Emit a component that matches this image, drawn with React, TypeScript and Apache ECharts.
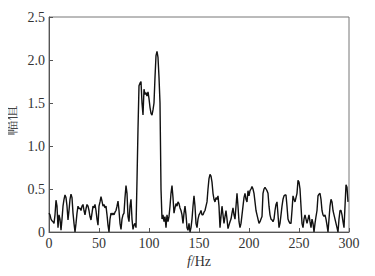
import React, { useEffect, useRef } from "react";
import * as echarts from "echarts";

// Sampling grid of the spectrum (Hz): first sample and spacing
const FREQ_START = 0;
const FREQ_STEP = 1;

// Amplitude, one value per Hz, rows of 10 (0–9, 10–19, ...)
const amplitude: number[] = [
  0.22, 0.2, 0.15, 0.13, 0.12, 0.1, 0.2, 0.37, 0.3, 0.05,
  0.2, 0.15, 0.02, 0.15, 0.3, 0.38, 0.43, 0.4, 0.3, 0.14,
  0.25, 0.38, 0.44, 0.4, 0.22, 0.1, 0.0, 0.1, 0.22, 0.3,
  0.27, 0.28, 0.25, 0.3, 0.32, 0.25, 0.2, 0.27, 0.32, 0.3,
  0.25, 0.18, 0.14, 0.22, 0.3, 0.28, 0.32, 0.25, 0.15, 0.08,
  0.3, 0.35, 0.41, 0.36, 0.3, 0.32, 0.28, 0.3, 0.2, 0.08,
  0.0, 0.15, 0.22, 0.2, 0.22, 0.2, 0.23, 0.25, 0.3, 0.36,
  0.25, 0.1, 0.03, 0.15, 0.2, 0.22, 0.4, 0.54, 0.45, 0.18,
  0.12, 0.3, 0.38, 0.15, 0.03, 0.08, 0.1, 0.05, 0.6, 1.2,
  1.7, 1.73, 1.75, 1.5, 1.36, 1.66, 1.6, 1.62, 1.58, 1.63,
  1.55, 1.45, 1.38, 1.36, 1.42, 1.5, 1.8, 2.05, 2.1, 2.03,
  1.8, 1.5, 0.5, 0.15, 0.2, 0.12, 0.18, 0.05, 0.2, 0.12,
  0.18, 0.3, 0.45, 0.54, 0.4, 0.22, 0.28, 0.33, 0.3, 0.35,
  0.33, 0.28, 0.25, 0.2, 0.1, 0.22, 0.3, 0.2, 0.05, 0.02,
  0.1, 0.0, 0.05, 0.15, 0.3, 0.42, 0.3, 0.1, 0.05, 0.15,
  0.2, 0.22, 0.25, 0.2, 0.2, 0.23, 0.25, 0.3, 0.35, 0.5,
  0.62, 0.67, 0.65, 0.58, 0.45, 0.38, 0.35, 0.4, 0.38, 0.42,
  0.3, 0.05, 0.18, 0.3, 0.2, 0.1, 0.18, 0.25, 0.15, 0.04,
  0.08, 0.12, 0.15, 0.22, 0.28, 0.2, 0.15, 0.3, 0.45, 0.3,
  0.12, 0.05, 0.1, 0.2, 0.3, 0.4, 0.45, 0.38, 0.35, 0.48,
  0.42, 0.48, 0.5, 0.53, 0.5, 0.45, 0.35, 0.25, 0.2, 0.15,
  0.1, 0.12, 0.15, 0.18, 0.45, 0.5, 0.52, 0.5, 0.48, 0.45,
  0.3, 0.2, 0.15, 0.14, 0.12, 0.15, 0.25, 0.32, 0.35, 0.2,
  0.05, 0.1, 0.2, 0.3, 0.38, 0.42, 0.43, 0.43, 0.3, 0.15,
  0.12, 0.1, 0.1, 0.25, 0.42, 0.38, 0.35, 0.4, 0.45, 0.6,
  0.58, 0.5, 0.3, 0.1, 0.05, 0.15, 0.2, 0.15, 0.1, 0.15,
  0.2, 0.12, 0.05, 0.15, 0.1, 0.0, 0.1, 0.18, 0.25, 0.42,
  0.44, 0.45, 0.38, 0.25, 0.2, 0.18, 0.2, 0.15, 0.08, 0.0,
  0.15, 0.3, 0.38, 0.35, 0.25, 0.2, 0.15, 0.1, 0.05, 0.0,
  0.15, 0.25, 0.25, 0.2, 0.12, 0.05, 0.3, 0.55, 0.52, 0.35,
];

const xTicks = [0, 50, 100, 150, 200, 250, 300];
const yTicks = [0, 0.5, 1.0, 1.5, 2.0, 2.5];

const X_NAME = "{i|f}/Hz";
const Y_NAME = "幅值";

const FONT = "'Liberation Serif', 'Times New Roman', serif";
const CJK = "'Noto Serif CJK SC', 'Noto Sans CJK SC', sans-serif";

export default function App() {
  const ref = useRef<HTMLDivElement>(null);

  useEffect(() => {
    if (!ref.current) return;
    const chart = echarts.init(ref.current, undefined, { renderer: "svg" });
    const points = amplitude.map((v, i) => [FREQ_START + i * FREQ_STEP, v]);
    const labelStyle = {
      color: "#333",
      fontFamily: FONT,
      fontSize: 14,
    };
    chart.setOption({
      animation: false,
      backgroundColor: "#fff",
      grid: {
        left: 49,
        right: 26,
        top: 17,
        bottom: 44,
        containLabel: false,
        outerBoundsMode: "none",
        show: true,
        borderColor: "#777",
        borderWidth: 1,
        backgroundColor: "transparent",
      },
      xAxis: {
        type: "value",
        min: xTicks[0],
        max: xTicks[xTicks.length - 1],
        interval: xTicks[1] - xTicks[0],
        name: X_NAME,
        nameLocation: "middle",
        nameGap: 22,
        nameTextStyle: {
          color: "#333",
          fontFamily: FONT,
          fontSize: 14,
          rich: {
            i: { fontStyle: "italic", fontFamily: FONT, fontSize: 14, color: "#333" },
          },
        },
        axisLine: { show: true, lineStyle: { color: "#555", width: 1 } },
        axisTick: { show: true, inside: true, length: 4, lineStyle: { color: "#555" } },
        axisLabel: { ...labelStyle, margin: 4 },
        splitLine: { show: false },
      },
      yAxis: {
        type: "value",
        min: yTicks[0],
        max: yTicks[yTicks.length - 1],
        interval: yTicks[1] - yTicks[0],
        name: Y_NAME,
        nameLocation: "middle",
        nameGap: 28,
        nameTextStyle: {
          color: "#444",
          fontFamily: CJK,
          fontSize: 15,
          padding: [0, 0, 0, 8],
        },
        axisLine: { show: true, lineStyle: { color: "#555", width: 1 } },
        axisTick: { show: true, inside: true, length: 4, lineStyle: { color: "#555" } },
        axisLabel: {
          ...labelStyle,
          margin: 4,
          formatter: (v: number) => (v === 0 ? "0" : v.toFixed(1)),
        },
        splitLine: { show: false },
      },
      series: [
        {
          type: "line",
          data: points,
          showSymbol: false,
          symbol: "none",
          lineStyle: { color: "#111", width: 1.4 },
        },
      ],
    });
    return () => chart.dispose();
  }, []);

  return <div ref={ref} style={{ width: 375, height: 276, margin: -8 }} />;
}
